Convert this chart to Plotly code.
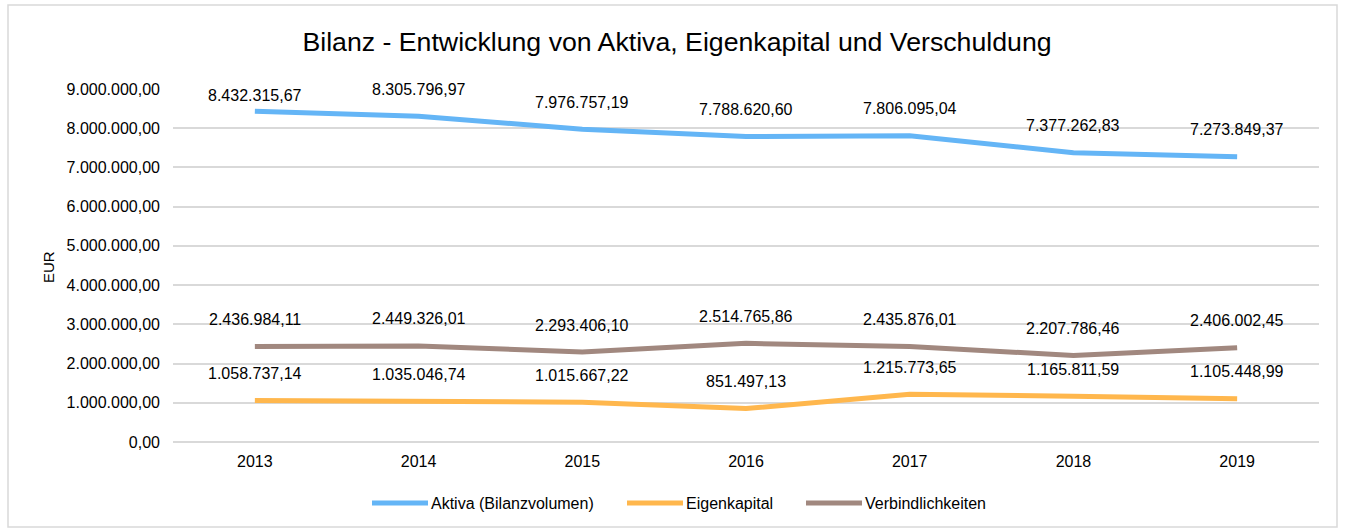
import plotly.graph_objects as go

years = ["2013", "2014", "2015", "2016", "2017", "2018", "2019"]
aktiva = [8432315.67, 8305796.97, 7976757.19, 7788620.60, 7806095.04, 7377262.83, 7273849.37]
eigenkapital = [1058737.14, 1035046.74, 1015667.22, 851497.13, 1215773.65, 1165811.59, 1105448.99]
verbindlichkeiten = [2436984.11, 2449326.01, 2293406.10, 2514765.86, 2435876.01, 2207786.46, 2406002.45]
series_names = ["Aktiva (Bilanzvolumen)", "Eigenkapital", "Verbindlichkeiten"]
y_ticks = [0, 1000000, 2000000, 3000000, 4000000, 5000000, 6000000, 7000000, 8000000, 9000000]

colors = ["#64B5F6", "#FFB74D", "#A1887F"]
label_shift = [[16, 27, 27, 27, 27, 27, 27], [27] * 7, [27] * 7]
legend_px = [372, 627, 806]  # left edge of each legend sample line (pixels)

# plot area in pixels
PL, PR, PT, PB = 173, 1319, 89, 442
W, H = 1345, 530
PW, PH = PR - PL, PB - PT


def px2x(p):
    return (p - PL) / PW


def py2y(p):
    return (PB - p) / PH


def de(v):
    s = f"{v:,.2f}"
    return s.replace(",", "X").replace(".", ",").replace("X", ".")


FONT = "Liberation Sans, Arial, sans-serif"
fig = go.Figure()
annotations = []
shapes = []
for name, vals, col, shifts, lx in zip(series_names, [aktiva, eigenkapital, verbindlichkeiten],
                                        colors, label_shift, legend_px):
    fig.add_trace(go.Scatter(x=years, y=vals, mode="lines", name=name,
                             line=dict(color=col, width=5), hoverinfo="skip", showlegend=False))
    for i, (v, s) in enumerate(zip(vals, shifts)):
        annotations.append(dict(x=i, y=v, xref="x", yref="y", text=de(v), showarrow=False, yshift=s,
                                font=dict(family=FONT, size=16, color="#000000")))
    # custom legend entry
    shapes.append(dict(type="line", xref="paper", yref="paper",
                       x0=px2x(lx), x1=px2x(lx + 56), y0=py2y(503), y1=py2y(503),
                       line=dict(color=col, width=5)))
    annotations.append(dict(x=px2x(lx + 57), y=py2y(503), xref="paper", yref="paper",
                            xanchor="left", yanchor="middle", text=name, showarrow=False,
                            font=dict(family=FONT, size=16, color="#000000")))

shapes.append(dict(type="rect", xref="paper", yref="paper",
                   x0=px2x(8), x1=px2x(1337), y0=py2y(527), y1=py2y(5),
                   line=dict(color="#D9D9D9", width=1.5), fillcolor="rgba(0,0,0,0)", layer="below"))

annotations.append(dict(x=px2x(48), y=py2y(267), xref="paper", yref="paper", text="EUR",
                        textangle=-90, showarrow=False, xanchor="center", yanchor="middle",
                        font=dict(family=FONT, size=15, color="#000000")))

fig.update_layout(
    width=W, height=H,
    paper_bgcolor="white", plot_bgcolor="white",
    margin=dict(l=PL, r=W - PR, t=PT, b=H - PB, pad=0),
    title=dict(text="Bilanz - Entwicklung von Aktiva, Eigenkapital und Verschuldung",
               x=677 / W, xanchor="center", y=1 - 42 / H, yanchor="middle",
               font=dict(family=FONT, size=26.7, color="#000000")),
    font=dict(family=FONT, size=16, color="#000000"),
    annotations=annotations,
    shapes=shapes,
    showlegend=False,
)
fig.update_xaxes(type="category", range=[-0.5, 6.5], showgrid=False, showline=False,
                 ticks="", ticklabelstandoff=8, tickfont=dict(family=FONT, size=16, color="#000000"))
fig.update_yaxes(range=[0, 9000000], tickvals=y_ticks, ticktext=[de(v) for v in y_ticks],
                 showgrid=True, gridcolor="#D9D9D9", gridwidth=1.5, zeroline=True,
                 zerolinecolor="#D9D9D9", zerolinewidth=1.5, ticks="", ticklabelstandoff=12,
                 tickfont=dict(family=FONT, size=16, color="#000000"))

fig.write_html("out.html", config={"displayModeBar": False},
               post_script="document.body.style.margin='0';")
